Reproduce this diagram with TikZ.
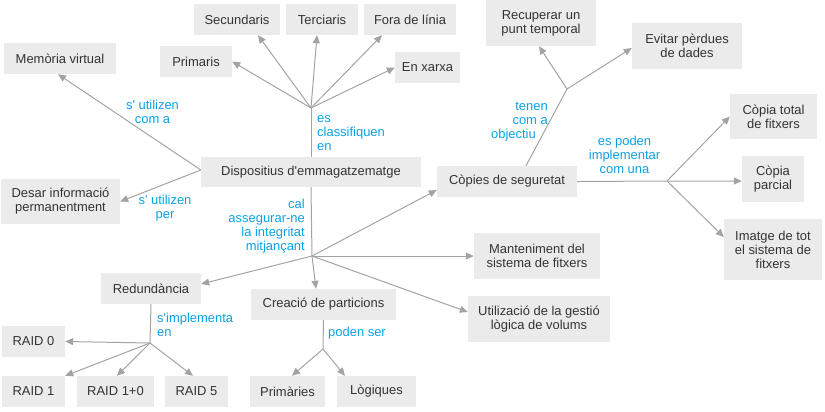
\documentclass[tikz,border=0pt]{standalone}
\usepackage{fontspec}
\setmainfont{Liberation Sans}
\usetikzlibrary{arrows.meta}
\definecolor{boxfill}{HTML}{EBEBEB}
\definecolor{txt}{HTML}{333333}
\definecolor{lbl}{HTML}{0AA2E6}
\definecolor{arr}{HTML}{A3A3A3}
\begin{document}
\begin{tikzpicture}[x=1bp,y=-1bp,
  box/.style 2 args={fill=boxfill, text=txt, inner sep=0pt, align=center,
    minimum width=#1bp, minimum height=#2bp, font=\fontsize{13}{14}\selectfont},
  lab/.style={text=lbl, inner sep=0pt, font=\fontsize{13}{14}\selectfont},
  con/.style={draw=arr, line width=1bp},
  arw/.style={con, -{Triangle[length=8bp,width=7bp]}}]
\useasboundingbox (0,0) rectangle (825,411);

% boxes
\node[box={220}{30}] (disp) at (311,172) {Dispositius d\textquotesingle emmagatzematge};
\node[box={86}{31}] (sec) at (237,19.5) {Secundaris};
\node[box={72}{31}] (ter) at (322,19.5) {Terciaris};
\node[box={92}{31}] (fora) at (410,19.5) {Fora de línia};
\node[box={112}{31}] (mem) at (60,58.5) {Memòria virtual};
\node[box={72}{31}] (prim) at (196,61.5) {Primaris};
\node[box={65}{31}] (xarxa) at (427.5,67.5) {En xarxa};
\node[box={119}{45}] (desar) at (60.5,201.5) {Desar informació\\permanentment};
\node[box={110}{46}] (rec) at (541,23) {Recuperar un\\punt temporal};
\node[box={110}{46}] (evit) at (687,46) {Evitar pèrdues\\de dades};
\node[box={140}{31}] (cop) at (507,181.5) {Còpies de seguretat};
\node[box={87}{45}] (ctot) at (773.5,116.5) {Còpia total\\de fitxers};
\node[box={62}{46}] (cpar) at (773,179) {Còpia\\parcial};
\node[box={98}{61}] (imat) at (773,249.5) {Imatge de tot\\el sistema de\\fitxers};
\node[box={126}{46}] (mant) at (537,256) {Manteniment del\\sistema de fitxers};
\node[box={142}{46}] (util) at (539,319) {Utilizació de la gestió\\lògica de volums};
\node[box={100}{31}] (red) at (151,288.5) {Redundància};
\node[box={145}{31}] (crea) at (323.5,304.5) {Creació de particions};
\node[box={63}{31}] (raid0) at (33.5,341.5) {RAID 0};
\node[box={63}{31}] (raid1) at (33.5,391.5) {RAID 1};
\node[box={77}{31}] (raid10) at (115.5,391.5) {RAID 1+0};
\node[box={63}{31}] (raid5) at (196.5,391.5) {RAID 5};
\node[box={75}{31}] (prm) at (287.5,391.5) {Primàries};
\node[box={79}{31}] (log) at (376.5,391.5) {Lògiques};

% hubs
\coordinate (h1) at (311,108);
\coordinate (h2) at (312,256);
\coordinate (h3) at (567,89);
\coordinate (h4) at (667,181);
\coordinate (h5) at (150,343);
\coordinate (h6) at (323,349);

% connectors
\draw[con] (disp.north) -- (h1);
\draw[arw] (h1) -- (prim.east);
\draw[arw] (h1) -- ([xshift=21bp]sec.south);
\draw[arw] (h1) -- ([xshift=-5bp]ter.south);
\draw[arw] (h1) -- ([xshift=-28bp]fora.south);
\draw[arw] (h1) -- (xarxa.west);

\draw[arw] ([yshift=2bp]disp.west) -- ([xshift=-2bp]mem.south);
\draw[arw] ([yshift=2bp]disp.west) -- (desar.east);

\draw[con] (disp.south) -- (h2);
\draw[arw] (h2) -- ([yshift=-8.5bp]cop.west);
\draw[arw] (h2) -- (mant.west);
\draw[arw] (h2) -- ([yshift=7bp]util.west);
\draw[arw] (h2) -- ([xshift=-7.5bp]crea.north);
\draw[arw] (h2) -- ([yshift=4.5bp]red.east);

\draw[con] ([xshift=19bp]cop.north) -- (h3);
\draw[arw] (h3) -- ([xshift=-2bp]rec.south);
\draw[arw] (h3) -- ([yshift=-2bp]evit.west);

\draw[con] (cop.east) -- (h4);
\draw[arw] (h4) -- (ctot.west);
\draw[arw] (h4) -- ([yshift=-2bp]cpar.west);
\draw[arw] (h4) -- ([yshift=12.5bp]imat.west);

\draw[con] (red.south) -- (h5);
\draw[arw] (h5) -- (raid0.east);
\draw[arw] (h5) -- (raid1.north east);
\draw[arw] (h5) -- ([xshift=1.5bp]raid10.north);
\draw[arw] (h5) -- ([xshift=-3.5bp]raid5.north);

\draw[con] (crea.south) -- (h6);
\draw[arw] (h6) -- ([xshift=4.5bp]prm.north);
\draw[arw] (h6) -- ([xshift=-31.5bp]log.north);

% labels
\node[lab, align=center] (l1) at (152.5,111.5) {s\textquotesingle\ utilizen\\com a};
\node[lab, align=left, anchor=west] (l2) at (317,133) {es\\classifiquen\\en};
\node[lab, align=center] (l3) at (165,208) {s\textquotesingle\ utilizen\\per};
\node[lab, align=right, anchor=east] (l4) at (305,226) {cal\\assegurar-ne\\la integritat\\mitjançant};
\node[lab, align=left, anchor=west] (l5) at (157,325) {s\textquotesingle implementa\\en};
\node[lab, align=left, anchor=west] (l6) at (328,333) {poden ser};
\node[lab, align=right, anchor=east] (l7) at (548,122) {tenen\\com a\hspace*{8bp}\\objectiu\hspace*{12bp}};
\node[lab, align=center] (l8) at (624.5,155) {es poden\\implementar\\com una};
\end{tikzpicture}
\end{document}
